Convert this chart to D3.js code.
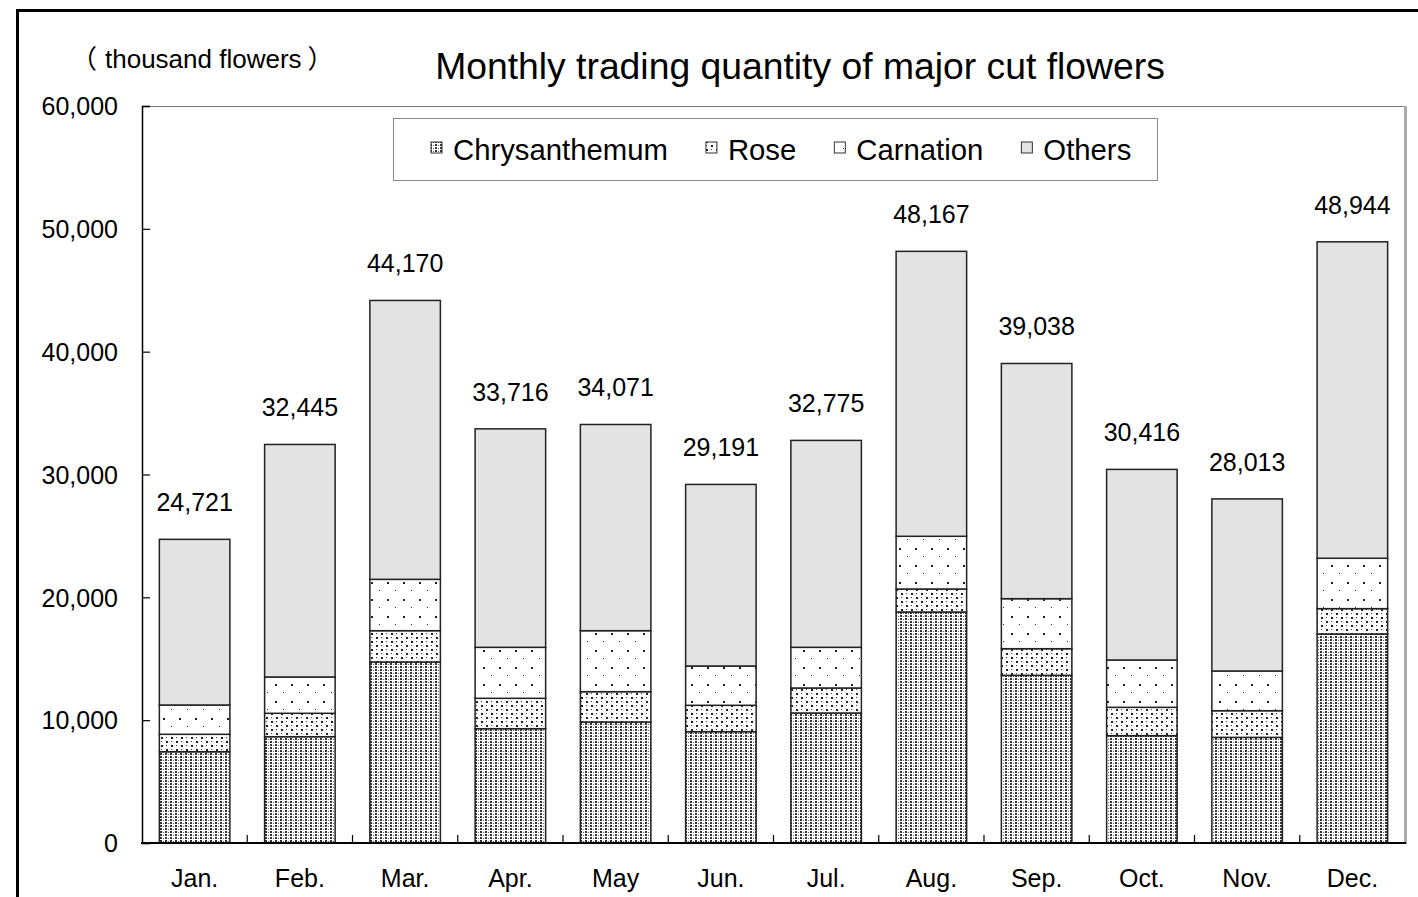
<!DOCTYPE html>
<html><head><meta charset="utf-8">
<script src="https://cdn.jsdelivr.net/npm/d3@7"></script>
<style>
html,body{margin:0;padding:0;background:#fff;overflow:hidden}
svg{display:block}
text{font-family:"Liberation Sans",Arial,"Noto Sans CJK JP",sans-serif;fill:#000}
</style></head>
<body>
<svg id="chart" width="1418" height="897"></svg>
<script>
const months = ["Jan.","Feb.","Mar.","Apr.","May","Jun.","Jul.","Aug.","Sep.","Oct.","Nov.","Dec."];
const totals = [24721,32445,44170,33716,34071,29191,32775,48167,39038,30416,28013,48944];
const chrysanthemum = [7430,8655,14736,9306,9850,9065,10584,18807,13650,8736,8600,17015];
const rose = [1420,1905,2549,2474,2470,2145,2035,1872,2170,2309,2170,2065];
const carnation = [2385,2955,4180,4150,4965,3200,3311,4291,4070,3854,3233,4100];
const others = [13486,18930,22705,17786,16786,14781,16845,23197,19148,15517,14010,25764];
const seriesNames = ["Chrysanthemum","Rose","Carnation","Others"];
const yTicks = [0,10000,20000,30000,40000,50000,60000];
const titleText = "Monthly trading quantity of major cut flowers";
const unitParts = ["（","thousand flowers","）"];

const svg = d3.select("#chart");
const defs = svg.append("defs");

// patterns
const pC = defs.append("pattern").attr("id","pat-chr").attr("patternUnits","userSpaceOnUse").attr("width",5).attr("height",3);
pC.append("rect").attr("width",5).attr("height",3).attr("fill","#fff");
pC.append("rect").attr("x",0).attr("y",0).attr("width",2).attr("height",2).attr("fill","#333");
pC.append("rect").attr("x",3).attr("y",1).attr("width",1).attr("height",1).attr("fill","#666");

const pR = defs.append("pattern").attr("id","pat-rose").attr("patternUnits","userSpaceOnUse").attr("width",10).attr("height",8);
pR.append("rect").attr("width",10).attr("height",8).attr("fill","#fff");
pR.append("rect").attr("x",1).attr("y",1).attr("width",2).attr("height",2).attr("fill","#222");
pR.append("rect").attr("x",6).attr("y",5).attr("width",2).attr("height",2).attr("fill","#222");
pR.append("rect").attr("x",6).attr("y",1).attr("width",1).attr("height",1).attr("fill","#444");
pR.append("rect").attr("x",1).attr("y",5).attr("width",1).attr("height",1).attr("fill","#444");

const pN = defs.append("pattern").attr("id","pat-carn").attr("patternUnits","userSpaceOnUse").attr("width",16).attr("height",17);
pN.append("rect").attr("width",16).attr("height",17).attr("fill","#fff");
pN.append("rect").attr("x",3).attr("y",4).attr("width",2).attr("height",2).attr("fill","#222");
pN.append("rect").attr("x",11).attr("y",12).attr("width",1).attr("height",1).attr("fill","#333");

const fills = ["url(#pat-chr)","url(#pat-rose)","url(#pat-carn)","#e3e3e3"];

// data table
const table = months.map((m,i)=>({month:m, Chrysanthemum:chrysanthemum[i], Rose:rose[i], Carnation:carnation[i], Others:others[i], total:totals[i]}));
const stacked = d3.stack().keys(seriesNames)(table);

const x = d3.scaleBand().domain(months).range([142,1405]).paddingInner(0.33).paddingOuter(0.165);
const y = d3.scaleLinear().domain([0,60000]).range([843,106]);

// outer frame
svg.append("rect").attr("x",17.5).attr("y",10.5).attr("width",1600).attr("height",1000)
  .attr("fill","none").attr("stroke","#000").attr("stroke-width",3);

// plot area border
svg.append("line").attr("x1",142).attr("x2",1405).attr("y1",106.5).attr("y2",106.5).attr("stroke","#777").attr("stroke-width",1);
svg.append("line").attr("x1",1405.5).attr("x2",1405.5).attr("y1",106).attr("y2",844).attr("stroke","#aaa").attr("stroke-width",3);

// bars
const groups = svg.append("g").selectAll("g").data(stacked).join("g")
  .attr("fill",(d,i)=>fills[i]);
groups.selectAll("rect").data(d=>d).join("rect")
  .attr("x",d=>x(d.data.month))
  .attr("width",x.bandwidth())
  .attr("y",d=>y(d[1]))
  .attr("height",d=>y(d[0])-y(d[1]))
  .attr("stroke","#222").attr("stroke-width",1.5);

// y axis
const yAxis = svg.append("g").attr("transform","translate(142,0)")
  .call(d3.axisLeft(y).tickValues(yTicks).tickSize(-8).tickPadding(24).tickFormat(d3.format(",")));
yAxis.select(".domain").attr("stroke","#000").attr("stroke-width",1.5);
yAxis.selectAll(".tick line").attr("stroke","#000").attr("stroke-width",1.2);
yAxis.selectAll(".tick text").attr("font-size",25).attr("font-family",'"Liberation Sans",Arial,sans-serif').attr("fill","#000").attr("dy","0.35em");

// x axis
svg.append("line").attr("x1",141).attr("x2",1406).attr("y1",843).attr("y2",843).attr("stroke","#000").attr("stroke-width",2);
const boundaries = months.slice(1).map((m,i)=>(x(months[i])+x.bandwidth()+x(m))/2);
svg.append("g").selectAll("line").data(boundaries).join("line")
  .attr("x1",d=>d).attr("x2",d=>d).attr("y1",835).attr("y2",843)
  .attr("stroke","#000").attr("stroke-width",1.2);
svg.append("g").selectAll("text").data(months).join("text")
  .attr("x",d=>x(d)+x.bandwidth()/2).attr("y",887)
  .attr("text-anchor","middle").attr("font-size",25).text(d=>d);

// total labels
svg.append("g").selectAll("text").data(table).join("text")
  .attr("x",d=>x(d.month)+x.bandwidth()/2).attr("y",d=>y(d.total)-28)
  .attr("text-anchor","middle").attr("font-size",25).text(d=>d3.format(",")(d.total));

// title & unit
svg.append("text").attr("x",800).attr("y",79).attr("text-anchor","middle").attr("font-size",37.3).text(titleText);
const unit = svg.append("text").attr("x",71).attr("y",68).attr("font-size",26);
unit.append("tspan").style("font-family",'"Noto Sans CJK JP",sans-serif').text(unitParts[0]);
unit.append("tspan").attr("dx",8).text(unitParts[1]);
unit.append("tspan").attr("dx",6).style("font-family",'"Noto Sans CJK JP",sans-serif').text(unitParts[2]);

// legend
svg.append("rect").attr("x",393.5).attr("y",118.5).attr("width",764).attr("height",62)
  .attr("fill","#fff").attr("stroke","#888").attr("stroke-width",1);
const leg = svg.append("g");
let lx = 431;
seriesNames.forEach((name,i)=>{
  leg.append("rect").attr("x",lx).attr("y",142).attr("width",11).attr("height",11)
    .attr("fill",fills[i]).attr("stroke","#333").attr("stroke-width",1);
  const t = leg.append("text").attr("x",lx+22).attr("y",160).attr("font-size",29.3).text(name);
  lx += 22 + t.node().getComputedTextLength() + 38;
});
</script>
</body></html>
